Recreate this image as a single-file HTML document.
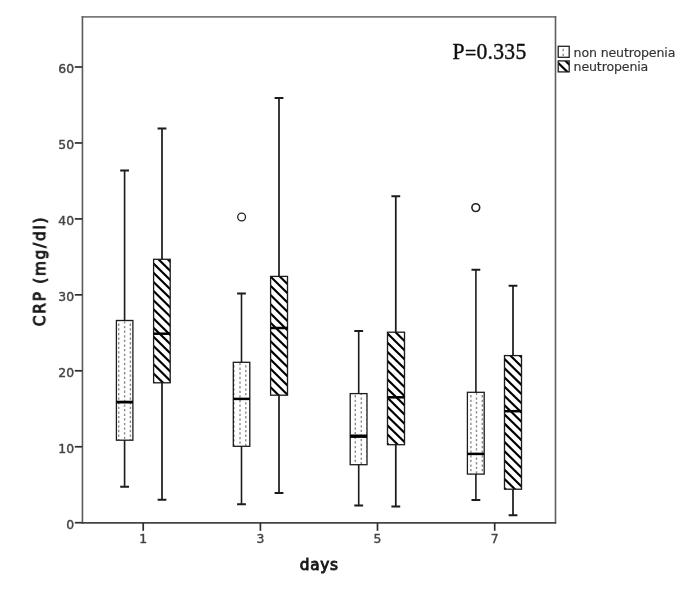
<!DOCTYPE html><html><head><meta charset="utf-8"><title>CRP box plot</title><style>
html,body{margin:0;padding:0;background:#fff;}body{width:685px;height:589px;overflow:hidden;}
svg{display:block;}
.tk{font-family:"DejaVu Sans","Liberation Sans",sans-serif;font-size:12.4px;fill:#444;stroke:#444;stroke-width:0.4px;}
.ttl{font-family:"DejaVu Sans","Liberation Sans",sans-serif;font-weight:normal;font-size:15.3px;fill:#1a1a1a;stroke:#1a1a1a;stroke-width:0.9px;}
.lg{font-family:"DejaVu Sans","Liberation Sans",sans-serif;font-size:12.6px;letter-spacing:-0.15px;fill:#333;stroke:#333;stroke-width:0.15px;}
.pv{font-family:"Liberation Serif","DejaVu Serif",serif;font-size:21.6px;letter-spacing:0.3px;fill:#111;stroke:#111;stroke-width:0.4px;}
</style></head><body>
<svg width="685" height="589" viewBox="0 0 685 589">
<defs>
<clipPath id="c0"><rect x="116.4" y="320.5" width="16.5" height="119.7"/></clipPath>
<clipPath id="c1"><rect x="153.6" y="259.3" width="16.6" height="123.5"/></clipPath>
<clipPath id="c2"><rect x="233.3" y="362.3" width="16.5" height="84"/></clipPath>
<clipPath id="c3"><rect x="270.6" y="276.4" width="16.9" height="118.8"/></clipPath>
<clipPath id="c4"><rect x="350.2" y="393.6" width="16.8" height="71.1"/></clipPath>
<clipPath id="c5"><rect x="387.5" y="332.2" width="17" height="112.5"/></clipPath>
<clipPath id="c6"><rect x="467.4" y="392.3" width="16.8" height="81.8"/></clipPath>
<clipPath id="c7"><rect x="504.5" y="355.6" width="17" height="133.6"/></clipPath>
<clipPath id="cl1"><rect x="558.2" y="46.3" width="11" height="11"/></clipPath>
<clipPath id="cl2"><rect x="558.2" y="60.9" width="11" height="11"/></clipPath>
</defs>
<rect width="685" height="589" fill="#fff"/>
<filter id="soft" x="0" y="0" width="685" height="589" filterUnits="userSpaceOnUse"><feGaussianBlur stdDeviation="0.4"/></filter>
<g filter="url(#soft)">
<path d="M81.6 16.9H556.2" stroke="#7a7a7a" stroke-width="1.7" fill="none"/>
<path d="M555.5 16.2V523.6" stroke="#5e5e5e" stroke-width="1.6" fill="none"/>
<path d="M82.45 16.2V523.6" stroke="#5a5a5a" stroke-width="1.6" fill="none"/>
<path d="M81.6 522.8H556.1" stroke="#444" stroke-width="1.7" fill="none"/>
<g stroke="#2e2e2e" stroke-width="1.7">
<line x1="74.8" y1="522.7" x2="82.2" y2="522.7"/>
<line x1="74.8" y1="446.75" x2="82.2" y2="446.75"/>
<line x1="74.8" y1="370.8" x2="82.2" y2="370.8"/>
<line x1="74.8" y1="294.85" x2="82.2" y2="294.85"/>
<line x1="74.8" y1="218.9" x2="82.2" y2="218.9"/>
<line x1="74.8" y1="142.95" x2="82.2" y2="142.95"/>
<line x1="74.8" y1="67" x2="82.2" y2="67"/>
<line x1="143.2" y1="522.8" x2="143.2" y2="530.8"/>
<line x1="260.4" y1="522.8" x2="260.4" y2="530.8"/>
<line x1="377.5" y1="522.8" x2="377.5" y2="530.8"/>
<line x1="494.7" y1="522.8" x2="494.7" y2="530.8"/>
</g>
<g class="tk" text-anchor="end">
<text x="74.1" y="528.8">0</text>
<text x="74.1" y="452.85">10</text>
<text x="74.1" y="376.9">20</text>
<text x="74.1" y="300.95">30</text>
<text x="74.1" y="225">40</text>
<text x="74.1" y="149.05">50</text>
<text x="74.1" y="73.1">60</text>
</g>
<g class="tk" text-anchor="middle">
<text x="143.2" y="542.6">1</text>
<text x="260.4" y="542.6">3</text>
<text x="377.5" y="542.6">5</text>
<text x="494.7" y="542.6">7</text>
</g>
<g stroke="#1c1c1c" fill="none">
<path d="M124.6 170.4V320.5M124.6 440.2V486.8" stroke-width="1.6"/>
<path d="M120.2 170.4H129M120.2 486.8H129" stroke-width="2.0"/>
</g>
<path clip-path="url(#c0)" d="M118 318.98h1.4v2.3h-1.4zM118 323.6h1.4v2.3h-1.4zM118 328.22h1.4v2.3h-1.4zM118 332.84h1.4v2.3h-1.4zM118 337.46h1.4v2.3h-1.4zM118 342.08h1.4v2.3h-1.4zM118 346.7h1.4v2.3h-1.4zM118 351.32h1.4v2.3h-1.4zM118 355.94h1.4v2.3h-1.4zM118 360.56h1.4v2.3h-1.4zM118 365.18h1.4v2.3h-1.4zM118 369.8h1.4v2.3h-1.4zM118 374.42h1.4v2.3h-1.4zM118 379.04h1.4v2.3h-1.4zM118 383.66h1.4v2.3h-1.4zM118 388.28h1.4v2.3h-1.4zM118 392.9h1.4v2.3h-1.4zM118 397.52h1.4v2.3h-1.4zM118 402.14h1.4v2.3h-1.4zM118 406.76h1.4v2.3h-1.4zM118 411.38h1.4v2.3h-1.4zM118 416h1.4v2.3h-1.4zM118 420.62h1.4v2.3h-1.4zM118 425.24h1.4v2.3h-1.4zM118 429.86h1.4v2.3h-1.4zM118 434.48h1.4v2.3h-1.4zM118 439.1h1.4v2.3h-1.4zM123.9 321.29h1.4v2.3h-1.4zM123.9 325.91h1.4v2.3h-1.4zM123.9 330.53h1.4v2.3h-1.4zM123.9 335.15h1.4v2.3h-1.4zM123.9 339.77h1.4v2.3h-1.4zM123.9 344.39h1.4v2.3h-1.4zM123.9 349.01h1.4v2.3h-1.4zM123.9 353.63h1.4v2.3h-1.4zM123.9 358.25h1.4v2.3h-1.4zM123.9 362.87h1.4v2.3h-1.4zM123.9 367.49h1.4v2.3h-1.4zM123.9 372.11h1.4v2.3h-1.4zM123.9 376.73h1.4v2.3h-1.4zM123.9 381.35h1.4v2.3h-1.4zM123.9 385.97h1.4v2.3h-1.4zM123.9 390.59h1.4v2.3h-1.4zM123.9 395.21h1.4v2.3h-1.4zM123.9 399.83h1.4v2.3h-1.4zM123.9 404.45h1.4v2.3h-1.4zM123.9 409.07h1.4v2.3h-1.4zM123.9 413.69h1.4v2.3h-1.4zM123.9 418.31h1.4v2.3h-1.4zM123.9 422.93h1.4v2.3h-1.4zM123.9 427.55h1.4v2.3h-1.4zM123.9 432.17h1.4v2.3h-1.4zM123.9 436.79h1.4v2.3h-1.4zM129.7 318.98h1.4v2.3h-1.4zM129.7 323.6h1.4v2.3h-1.4zM129.7 328.22h1.4v2.3h-1.4zM129.7 332.84h1.4v2.3h-1.4zM129.7 337.46h1.4v2.3h-1.4zM129.7 342.08h1.4v2.3h-1.4zM129.7 346.7h1.4v2.3h-1.4zM129.7 351.32h1.4v2.3h-1.4zM129.7 355.94h1.4v2.3h-1.4zM129.7 360.56h1.4v2.3h-1.4zM129.7 365.18h1.4v2.3h-1.4zM129.7 369.8h1.4v2.3h-1.4zM129.7 374.42h1.4v2.3h-1.4zM129.7 379.04h1.4v2.3h-1.4zM129.7 383.66h1.4v2.3h-1.4zM129.7 388.28h1.4v2.3h-1.4zM129.7 392.9h1.4v2.3h-1.4zM129.7 397.52h1.4v2.3h-1.4zM129.7 402.14h1.4v2.3h-1.4zM129.7 406.76h1.4v2.3h-1.4zM129.7 411.38h1.4v2.3h-1.4zM129.7 416h1.4v2.3h-1.4zM129.7 420.62h1.4v2.3h-1.4zM129.7 425.24h1.4v2.3h-1.4zM129.7 429.86h1.4v2.3h-1.4zM129.7 434.48h1.4v2.3h-1.4zM129.7 439.1h1.4v2.3h-1.4z" fill="#8a8a8a"/>
<rect x="116.4" y="320.5" width="16.5" height="119.7" fill="none" stroke="#1c1c1c" stroke-width="1.3"/>
<path d="M116.4 402.1H132.9" stroke="#000" stroke-width="2.8"/>
<g stroke="#1c1c1c" fill="none">
<path d="M162 128.4V259.3M162 382.8V499.7" stroke-width="1.75"/>
<path d="M157.6 128.4H166.4M157.6 499.7H166.4" stroke-width="2.0"/>
</g>
<path clip-path="url(#c1)" d="M151.6 243.44L172.2 263.63M151.6 252.59L172.2 272.78M151.6 261.74L172.2 281.93M151.6 270.89L172.2 291.08M151.6 280.04L172.2 300.23M151.6 289.19L172.2 309.38M151.6 298.34L172.2 318.53M151.6 307.49L172.2 327.68M151.6 316.64L172.2 336.83M151.6 325.79L172.2 345.98M151.6 334.94L172.2 355.13M151.6 344.09L172.2 364.28M151.6 353.24L172.2 373.43M151.6 362.39L172.2 382.58M151.6 371.54L172.2 391.73M151.6 380.69L172.2 400.88" stroke="#000" stroke-width="2.15" fill="none"/>
<rect x="153.6" y="259.3" width="16.6" height="123.5" fill="none" stroke="#1c1c1c" stroke-width="1.3"/>
<path d="M153.6 333.7H170.2" stroke="#000" stroke-width="2.5"/>
<g stroke="#1c1c1c" fill="none">
<path d="M241.5 293.6V362.3M241.5 446.3V504.2" stroke-width="1.6"/>
<path d="M237.1 293.6H245.9M237.1 504.2H245.9" stroke-width="2.0"/>
</g>
<path clip-path="url(#c2)" d="M233.2 360.68h1.4v2.3h-1.4zM233.2 365.3h1.4v2.3h-1.4zM233.2 369.92h1.4v2.3h-1.4zM233.2 374.54h1.4v2.3h-1.4zM233.2 379.16h1.4v2.3h-1.4zM233.2 383.78h1.4v2.3h-1.4zM233.2 388.4h1.4v2.3h-1.4zM233.2 393.02h1.4v2.3h-1.4zM233.2 397.64h1.4v2.3h-1.4zM233.2 402.26h1.4v2.3h-1.4zM233.2 406.88h1.4v2.3h-1.4zM233.2 411.5h1.4v2.3h-1.4zM233.2 416.12h1.4v2.3h-1.4zM233.2 420.74h1.4v2.3h-1.4zM233.2 425.36h1.4v2.3h-1.4zM233.2 429.98h1.4v2.3h-1.4zM233.2 434.6h1.4v2.3h-1.4zM233.2 439.22h1.4v2.3h-1.4zM233.2 443.84h1.4v2.3h-1.4zM239.3 362.99h1.4v2.3h-1.4zM239.3 367.61h1.4v2.3h-1.4zM239.3 372.23h1.4v2.3h-1.4zM239.3 376.85h1.4v2.3h-1.4zM239.3 381.47h1.4v2.3h-1.4zM239.3 386.09h1.4v2.3h-1.4zM239.3 390.71h1.4v2.3h-1.4zM239.3 395.33h1.4v2.3h-1.4zM239.3 399.95h1.4v2.3h-1.4zM239.3 404.57h1.4v2.3h-1.4zM239.3 409.19h1.4v2.3h-1.4zM239.3 413.81h1.4v2.3h-1.4zM239.3 418.43h1.4v2.3h-1.4zM239.3 423.05h1.4v2.3h-1.4zM239.3 427.67h1.4v2.3h-1.4zM239.3 432.29h1.4v2.3h-1.4zM239.3 436.91h1.4v2.3h-1.4zM239.3 441.53h1.4v2.3h-1.4zM239.3 446.15h1.4v2.3h-1.4zM245.1 360.68h1.4v2.3h-1.4zM245.1 365.3h1.4v2.3h-1.4zM245.1 369.92h1.4v2.3h-1.4zM245.1 374.54h1.4v2.3h-1.4zM245.1 379.16h1.4v2.3h-1.4zM245.1 383.78h1.4v2.3h-1.4zM245.1 388.4h1.4v2.3h-1.4zM245.1 393.02h1.4v2.3h-1.4zM245.1 397.64h1.4v2.3h-1.4zM245.1 402.26h1.4v2.3h-1.4zM245.1 406.88h1.4v2.3h-1.4zM245.1 411.5h1.4v2.3h-1.4zM245.1 416.12h1.4v2.3h-1.4zM245.1 420.74h1.4v2.3h-1.4zM245.1 425.36h1.4v2.3h-1.4zM245.1 429.98h1.4v2.3h-1.4zM245.1 434.6h1.4v2.3h-1.4zM245.1 439.22h1.4v2.3h-1.4zM245.1 443.84h1.4v2.3h-1.4z" fill="#8a8a8a"/>
<rect x="233.3" y="362.3" width="16.5" height="84" fill="none" stroke="#1c1c1c" stroke-width="1.3"/>
<path d="M233.3 398.9H249.8" stroke="#000" stroke-width="2.5"/>
<g stroke="#1c1c1c" fill="none">
<path d="M279 98V276.4M279 395.2V493.1" stroke-width="1.75"/>
<path d="M274.6 98H283.4M274.6 493.1H283.4" stroke-width="2.0"/>
</g>
<path clip-path="url(#c3)" d="M268.6 256.3L289.5 276.78M268.6 265.52L289.5 286M268.6 274.74L289.5 295.22M268.6 283.96L289.5 304.44M268.6 293.18L289.5 313.66M268.6 302.4L289.5 322.88M268.6 311.62L289.5 332.1M268.6 320.84L289.5 341.32M268.6 330.06L289.5 350.54M268.6 339.28L289.5 359.76M268.6 348.5L289.5 368.98M268.6 357.72L289.5 378.2M268.6 366.94L289.5 387.42M268.6 376.16L289.5 396.64M268.6 385.38L289.5 405.86M268.6 394.6L289.5 415.08" stroke="#000" stroke-width="2.15" fill="none"/>
<rect x="270.6" y="276.4" width="16.9" height="118.8" fill="none" stroke="#1c1c1c" stroke-width="1.3"/>
<path d="M270.6 328H287.5" stroke="#000" stroke-width="2.5"/>
<g stroke="#1c1c1c" fill="none">
<path d="M358.7 331V393.6M358.7 464.7V505.5" stroke-width="1.6"/>
<path d="M354.3 331H363.1M354.3 505.5H363.1" stroke-width="2.0"/>
</g>
<path clip-path="url(#c4)" d="M348.7 392.8h1.4v2.3h-1.4zM348.7 397.42h1.4v2.3h-1.4zM348.7 402.04h1.4v2.3h-1.4zM348.7 406.66h1.4v2.3h-1.4zM348.7 411.28h1.4v2.3h-1.4zM348.7 415.9h1.4v2.3h-1.4zM348.7 420.52h1.4v2.3h-1.4zM348.7 425.14h1.4v2.3h-1.4zM348.7 429.76h1.4v2.3h-1.4zM348.7 434.38h1.4v2.3h-1.4zM348.7 439h1.4v2.3h-1.4zM348.7 443.62h1.4v2.3h-1.4zM348.7 448.24h1.4v2.3h-1.4zM348.7 452.86h1.4v2.3h-1.4zM348.7 457.48h1.4v2.3h-1.4zM348.7 462.1h1.4v2.3h-1.4zM354.6 395.11h1.4v2.3h-1.4zM354.6 399.73h1.4v2.3h-1.4zM354.6 404.35h1.4v2.3h-1.4zM354.6 408.97h1.4v2.3h-1.4zM354.6 413.59h1.4v2.3h-1.4zM354.6 418.21h1.4v2.3h-1.4zM354.6 422.83h1.4v2.3h-1.4zM354.6 427.45h1.4v2.3h-1.4zM354.6 432.07h1.4v2.3h-1.4zM354.6 436.69h1.4v2.3h-1.4zM354.6 441.31h1.4v2.3h-1.4zM354.6 445.93h1.4v2.3h-1.4zM354.6 450.55h1.4v2.3h-1.4zM354.6 455.17h1.4v2.3h-1.4zM354.6 459.79h1.4v2.3h-1.4zM354.6 464.41h1.4v2.3h-1.4zM360.6 392.8h1.4v2.3h-1.4zM360.6 397.42h1.4v2.3h-1.4zM360.6 402.04h1.4v2.3h-1.4zM360.6 406.66h1.4v2.3h-1.4zM360.6 411.28h1.4v2.3h-1.4zM360.6 415.9h1.4v2.3h-1.4zM360.6 420.52h1.4v2.3h-1.4zM360.6 425.14h1.4v2.3h-1.4zM360.6 429.76h1.4v2.3h-1.4zM360.6 434.38h1.4v2.3h-1.4zM360.6 439h1.4v2.3h-1.4zM360.6 443.62h1.4v2.3h-1.4zM360.6 448.24h1.4v2.3h-1.4zM360.6 452.86h1.4v2.3h-1.4zM360.6 457.48h1.4v2.3h-1.4zM360.6 462.1h1.4v2.3h-1.4zM366.5 395.11h1.4v2.3h-1.4zM366.5 399.73h1.4v2.3h-1.4zM366.5 404.35h1.4v2.3h-1.4zM366.5 408.97h1.4v2.3h-1.4zM366.5 413.59h1.4v2.3h-1.4zM366.5 418.21h1.4v2.3h-1.4zM366.5 422.83h1.4v2.3h-1.4zM366.5 427.45h1.4v2.3h-1.4zM366.5 432.07h1.4v2.3h-1.4zM366.5 436.69h1.4v2.3h-1.4zM366.5 441.31h1.4v2.3h-1.4zM366.5 445.93h1.4v2.3h-1.4zM366.5 450.55h1.4v2.3h-1.4zM366.5 455.17h1.4v2.3h-1.4zM366.5 459.79h1.4v2.3h-1.4zM366.5 464.41h1.4v2.3h-1.4z" fill="#8a8a8a"/>
<rect x="350.2" y="393.6" width="16.8" height="71.1" fill="none" stroke="#1c1c1c" stroke-width="1.3"/>
<path d="M350.2 436.2H367" stroke="#000" stroke-width="3.4"/>
<g stroke="#1c1c1c" fill="none">
<path d="M395.8 196.3V332.2M395.8 444.7V506.6" stroke-width="1.75"/>
<path d="M391.4 196.3H400.2M391.4 506.6H400.2" stroke-width="2.0"/>
</g>
<path clip-path="url(#c5)" d="M385.5 313.16L406.5 333.74M385.5 322.35L406.5 342.93M385.5 331.54L406.5 352.12M385.5 340.73L406.5 361.31M385.5 349.92L406.5 370.5M385.5 359.11L406.5 379.69M385.5 368.3L406.5 388.88M385.5 377.49L406.5 398.07M385.5 386.68L406.5 407.26M385.5 395.87L406.5 416.45M385.5 405.06L406.5 425.64M385.5 414.25L406.5 434.83M385.5 423.44L406.5 444.02M385.5 432.63L406.5 453.21M385.5 441.82L406.5 462.4" stroke="#000" stroke-width="2.15" fill="none"/>
<rect x="387.5" y="332.2" width="17" height="112.5" fill="none" stroke="#1c1c1c" stroke-width="1.3"/>
<path d="M387.5 397.3H404.5" stroke="#000" stroke-width="2.5"/>
<g stroke="#1c1c1c" fill="none">
<path d="M475.9 269.8V392.3M475.9 474.1V500.1" stroke-width="1.6"/>
<path d="M471.5 269.8H480.3M471.5 500.1H480.3" stroke-width="2.0"/>
</g>
<path clip-path="url(#c6)" d="M470.2 390.48h1.4v2.3h-1.4zM470.2 395.1h1.4v2.3h-1.4zM470.2 399.72h1.4v2.3h-1.4zM470.2 404.34h1.4v2.3h-1.4zM470.2 408.96h1.4v2.3h-1.4zM470.2 413.58h1.4v2.3h-1.4zM470.2 418.2h1.4v2.3h-1.4zM470.2 422.82h1.4v2.3h-1.4zM470.2 427.44h1.4v2.3h-1.4zM470.2 432.06h1.4v2.3h-1.4zM470.2 436.68h1.4v2.3h-1.4zM470.2 441.3h1.4v2.3h-1.4zM470.2 445.92h1.4v2.3h-1.4zM470.2 450.54h1.4v2.3h-1.4zM470.2 455.16h1.4v2.3h-1.4zM470.2 459.78h1.4v2.3h-1.4zM470.2 464.4h1.4v2.3h-1.4zM470.2 469.02h1.4v2.3h-1.4zM470.2 473.64h1.4v2.3h-1.4zM475.8 392.79h1.4v2.3h-1.4zM475.8 397.41h1.4v2.3h-1.4zM475.8 402.03h1.4v2.3h-1.4zM475.8 406.65h1.4v2.3h-1.4zM475.8 411.27h1.4v2.3h-1.4zM475.8 415.89h1.4v2.3h-1.4zM475.8 420.51h1.4v2.3h-1.4zM475.8 425.13h1.4v2.3h-1.4zM475.8 429.75h1.4v2.3h-1.4zM475.8 434.37h1.4v2.3h-1.4zM475.8 438.99h1.4v2.3h-1.4zM475.8 443.61h1.4v2.3h-1.4zM475.8 448.23h1.4v2.3h-1.4zM475.8 452.85h1.4v2.3h-1.4zM475.8 457.47h1.4v2.3h-1.4zM475.8 462.09h1.4v2.3h-1.4zM475.8 466.71h1.4v2.3h-1.4zM475.8 471.33h1.4v2.3h-1.4zM481.6 390.48h1.4v2.3h-1.4zM481.6 395.1h1.4v2.3h-1.4zM481.6 399.72h1.4v2.3h-1.4zM481.6 404.34h1.4v2.3h-1.4zM481.6 408.96h1.4v2.3h-1.4zM481.6 413.58h1.4v2.3h-1.4zM481.6 418.2h1.4v2.3h-1.4zM481.6 422.82h1.4v2.3h-1.4zM481.6 427.44h1.4v2.3h-1.4zM481.6 432.06h1.4v2.3h-1.4zM481.6 436.68h1.4v2.3h-1.4zM481.6 441.3h1.4v2.3h-1.4zM481.6 445.92h1.4v2.3h-1.4zM481.6 450.54h1.4v2.3h-1.4zM481.6 455.16h1.4v2.3h-1.4zM481.6 459.78h1.4v2.3h-1.4zM481.6 464.4h1.4v2.3h-1.4zM481.6 469.02h1.4v2.3h-1.4zM481.6 473.64h1.4v2.3h-1.4z" fill="#8a8a8a"/>
<rect x="467.4" y="392.3" width="16.8" height="81.8" fill="none" stroke="#1c1c1c" stroke-width="1.3"/>
<path d="M467.4 453.9H484.2" stroke="#000" stroke-width="2.5"/>
<g stroke="#1c1c1c" fill="none">
<path d="M513 285.7V355.6M513 489.2V515.2" stroke-width="1.75"/>
<path d="M508.6 285.7H517.4M508.6 515.2H517.4" stroke-width="2.0"/>
</g>
<path clip-path="url(#c7)" d="M502.5 338.58L523.5 359.16M502.5 347.81L523.5 368.39M502.5 357.04L523.5 377.62M502.5 366.27L523.5 386.85M502.5 375.5L523.5 396.08M502.5 384.73L523.5 405.31M502.5 393.96L523.5 414.54M502.5 403.19L523.5 423.77M502.5 412.42L523.5 433M502.5 421.65L523.5 442.23M502.5 430.88L523.5 451.46M502.5 440.11L523.5 460.69M502.5 449.34L523.5 469.92M502.5 458.57L523.5 479.15M502.5 467.8L523.5 488.38M502.5 477.03L523.5 497.61M502.5 486.26L523.5 506.84" stroke="#000" stroke-width="2.15" fill="none"/>
<rect x="504.5" y="355.6" width="17" height="133.6" fill="none" stroke="#1c1c1c" stroke-width="1.3"/>
<path d="M504.5 411.2H521.5" stroke="#000" stroke-width="2.5"/>
<circle cx="241.6" cy="217.0" r="3.9" fill="#fff" stroke="#222" stroke-width="1.3"/>
<circle cx="475.8" cy="207.6" r="3.9" fill="#fff" stroke="#222" stroke-width="1.6"/>
<text class="ttl" text-anchor="middle" letter-spacing="1.75" font-size="16.3" transform="translate(45.2,271.0) rotate(-90)">CRP (mg/dl)</text>
<text class="ttl" text-anchor="middle" letter-spacing="0.75" x="319.3" y="570.3" font-size="16.8">days</text>
<text class="pv" transform="translate(452.6,58.5) scale(1,1.05)">P<tspan dy="1.2" font-size="20">=</tspan><tspan dy="-1.2">0.335</tspan></text>
<path clip-path="url(#cl1)" d="M562.5 44.05h1.4v2.3h-1.4zM562.5 48.85h1.4v2.3h-1.4zM562.5 53.65h1.4v2.3h-1.4z" fill="#8a8a8a"/>
<rect x="558.2" y="46.3" width="11" height="11" fill="none" stroke="#222" stroke-width="1.3"/>
<path clip-path="url(#cl2)" d="M556.2 51.79L571.2 66.49M556.2 60.94L571.2 75.64M556.2 70.09L571.2 84.79" stroke="#000" stroke-width="2.15" fill="none"/>
<rect x="558.2" y="60.9" width="11" height="11" fill="none" stroke="#222" stroke-width="1.3"/>
<text class="lg" x="573.6" y="56.8">non neutropenia</text>
<text class="lg" x="573.6" y="70.6">neutropenia</text>
</g>
</svg></body></html>
